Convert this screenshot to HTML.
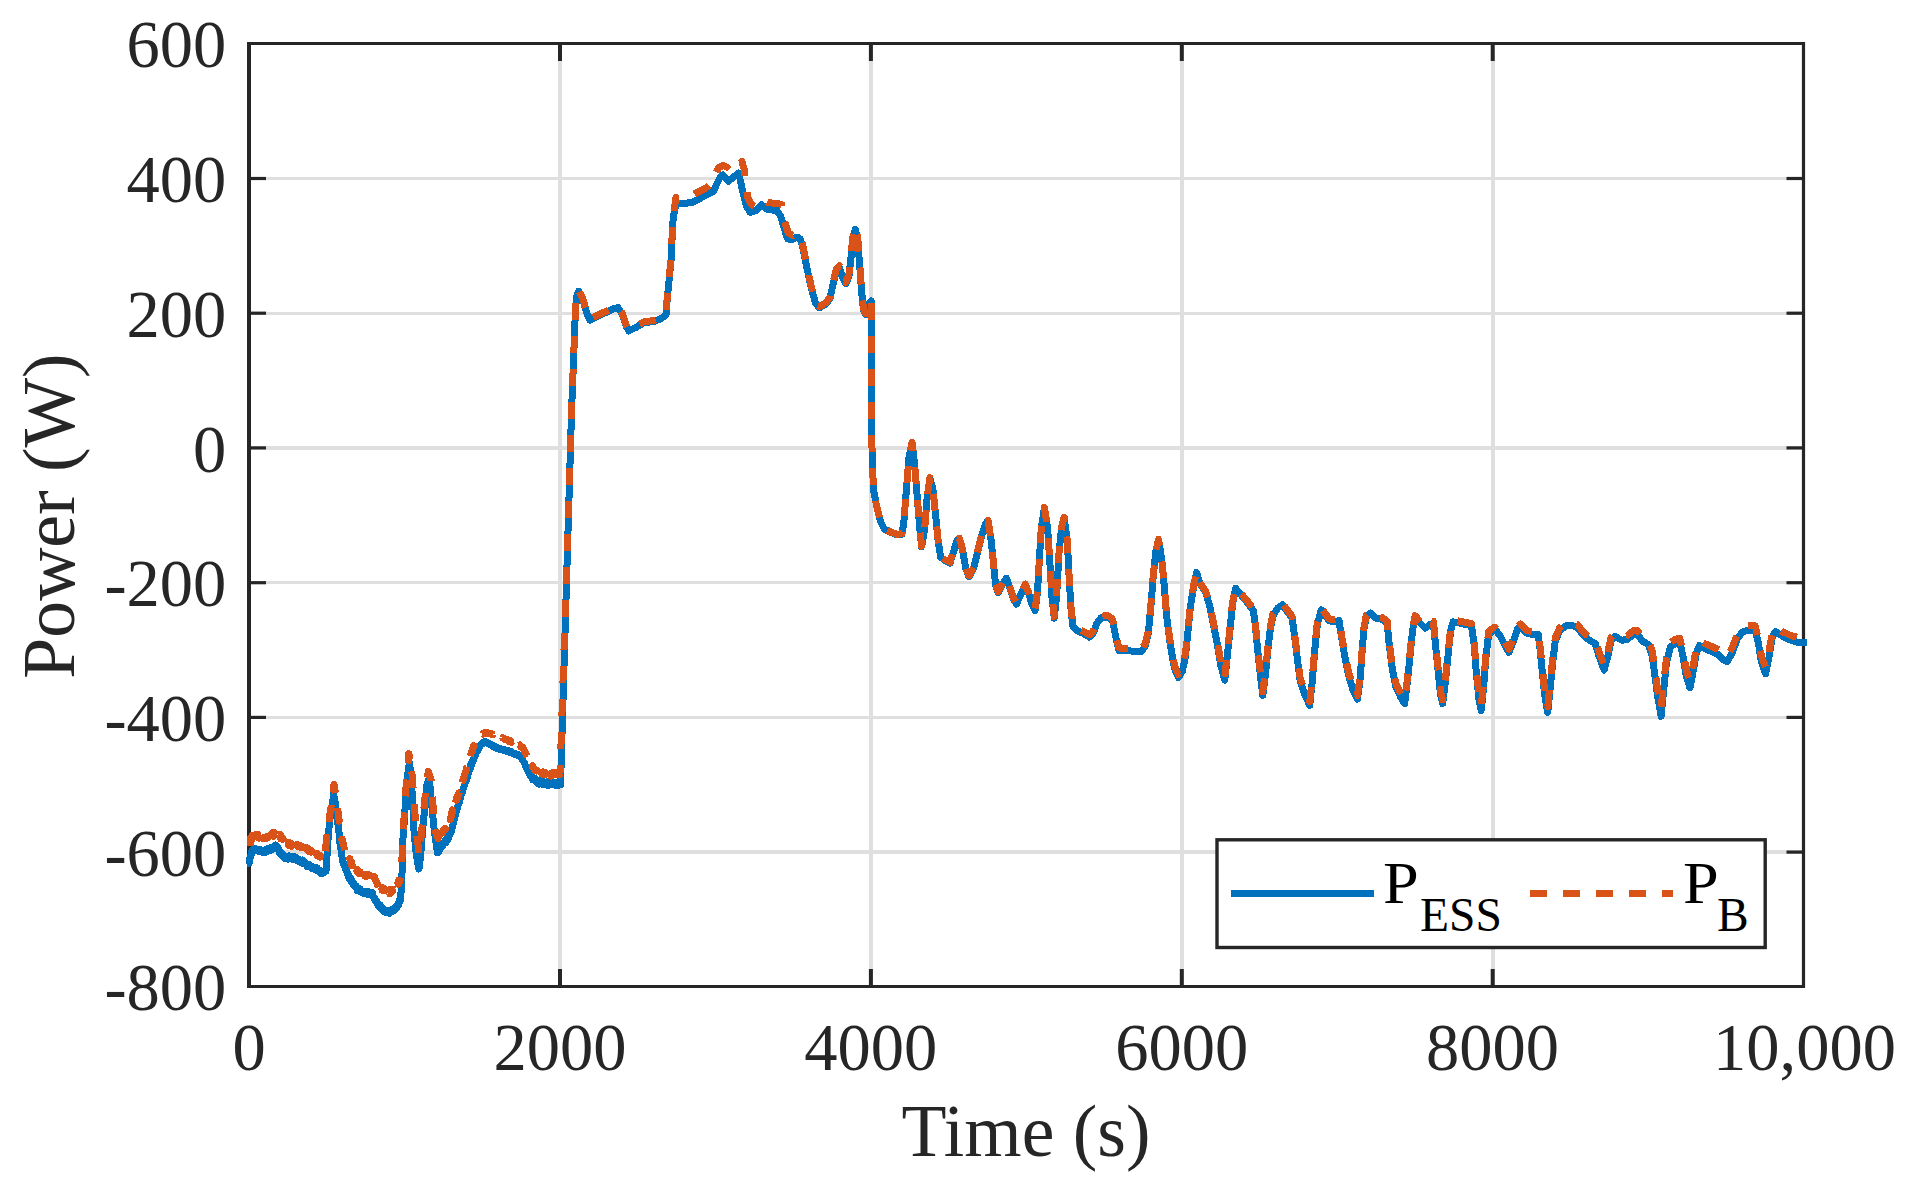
<!DOCTYPE html>
<html lang="en"><head><meta charset="utf-8"><title>Power vs Time</title>
<style>
html,body{margin:0;padding:0;background:#fff;}
body{width:1911px;height:1183px;overflow:hidden;}
svg{display:block;}
text{font-family:"Liberation Serif","Times New Roman",serif;fill:#262626;}
.tick{font-size:66.5px;}
.lab{font-size:73.7px;}
.leg{font-size:59.4px;fill:#000;}
.sub{font-size:47.5px;fill:#000;}
</style></head><body>
<svg width="1911" height="1183" viewBox="0 0 1911 1183">
<rect x="0" y="0" width="1911" height="1183" fill="#ffffff"/>
<g stroke="#dfdfdf" fill="none" shape-rendering="crispEdges">
<line x1="560.0" y1="45" x2="560.0" y2="985" stroke-width="4"/>
<line x1="870.9" y1="45" x2="870.9" y2="985" stroke-width="4"/>
<line x1="1181.8" y1="45" x2="1181.8" y2="985" stroke-width="4"/>
<line x1="1492.7" y1="45" x2="1492.7" y2="985" stroke-width="4"/>
<line x1="251" y1="178.5" x2="1802" y2="178.5" stroke-width="3.4"/>
<line x1="251" y1="313.2" x2="1802" y2="313.2" stroke-width="3.4"/>
<line x1="251" y1="447.9" x2="1802" y2="447.9" stroke-width="3.4"/>
<line x1="251" y1="582.7" x2="1802" y2="582.7" stroke-width="3.4"/>
<line x1="251" y1="717.4" x2="1802" y2="717.4" stroke-width="3.4"/>
<line x1="251" y1="852.1" x2="1802" y2="852.1" stroke-width="3.4"/>
</g>
<g stroke="#262626" fill="none" stroke-linecap="butt">
<line x1="249" y1="42" x2="249" y2="988" stroke-width="4"/>
<line x1="1803.5" y1="42" x2="1803.5" y2="988" stroke-width="3.2"/>
<line x1="247" y1="43.5" x2="1805" y2="43.5" stroke-width="3.1"/>
<line x1="247" y1="986.5" x2="1805" y2="986.5" stroke-width="3.1"/>
<line x1="560.0" y1="986" x2="560.0" y2="969" stroke-width="4"/>
<line x1="560.0" y1="44" x2="560.0" y2="61" stroke-width="4"/>
<line x1="870.9" y1="986" x2="870.9" y2="969" stroke-width="4"/>
<line x1="870.9" y1="44" x2="870.9" y2="61" stroke-width="4"/>
<line x1="1181.8" y1="986" x2="1181.8" y2="969" stroke-width="4"/>
<line x1="1181.8" y1="44" x2="1181.8" y2="61" stroke-width="4"/>
<line x1="1492.7" y1="986" x2="1492.7" y2="969" stroke-width="4"/>
<line x1="1492.7" y1="44" x2="1492.7" y2="61" stroke-width="4"/>
<line x1="250" y1="178.5" x2="266" y2="178.5" stroke-width="3.2"/>
<line x1="1803" y1="178.5" x2="1786.5" y2="178.5" stroke-width="3.2"/>
<line x1="250" y1="313.2" x2="266" y2="313.2" stroke-width="3.2"/>
<line x1="1803" y1="313.2" x2="1786.5" y2="313.2" stroke-width="3.2"/>
<line x1="250" y1="447.9" x2="266" y2="447.9" stroke-width="3.2"/>
<line x1="1803" y1="447.9" x2="1786.5" y2="447.9" stroke-width="3.2"/>
<line x1="250" y1="582.7" x2="266" y2="582.7" stroke-width="3.2"/>
<line x1="1803" y1="582.7" x2="1786.5" y2="582.7" stroke-width="3.2"/>
<line x1="250" y1="717.4" x2="266" y2="717.4" stroke-width="3.2"/>
<line x1="1803" y1="717.4" x2="1786.5" y2="717.4" stroke-width="3.2"/>
<line x1="250" y1="852.1" x2="266" y2="852.1" stroke-width="3.2"/>
<line x1="1803" y1="852.1" x2="1786.5" y2="852.1" stroke-width="3.2"/>
</g>
<g fill="none" stroke-linejoin="round" stroke-linecap="butt" shape-rendering="crispEdges">
<polyline stroke="#0072BD" stroke-width="7" points="246.6,864.1 249.1,863.2 249.3,861.2 249.6,859.6 249.8,858.4 250.1,858.4 250.3,856.6 250.6,855.3 250.8,855.7 251.1,854.7 251.3,854.1 251.6,852.3 251.8,852.4 252.1,851.8 252.3,850.1 252.6,851.1 252.8,850.4 253.1,851.4 253.3,849.3 253.6,849.0 253.8,850.2 254.1,849.4 254.3,850.0 254.6,849.0 254.8,849.5 255.1,850.2 255.3,849.9 255.6,849.5 255.8,848.6 256.1,849.8 256.3,849.6 256.6,850.1 256.8,849.8 257.1,850.5 257.3,849.6 257.6,849.9 257.8,850.3 258.1,849.0 258.3,849.6 258.6,849.6 258.8,851.6 259.1,850.1 259.3,850.7 259.6,850.8 259.8,850.1 260.1,849.2 260.3,851.3 260.6,850.3 260.8,851.2 261.1,849.7 261.3,850.5 261.6,851.9 261.8,852.1 262.1,850.0 262.3,850.0 262.6,851.1 262.8,851.8 263.1,851.5 263.3,851.6 263.6,850.7 263.8,852.0 264.1,852.5 264.3,851.2 264.6,850.3 264.8,850.8 265.1,851.9 265.3,849.8 265.6,851.1 265.8,850.3 266.1,850.9 266.3,850.7 266.6,850.9 266.8,852.0 267.1,851.0 267.3,851.7 267.6,850.4 267.8,850.1 268.1,850.7 268.3,848.1 268.6,850.2 268.8,850.3 269.1,849.1 269.3,850.4 269.6,849.5 269.8,847.9 270.1,849.6 270.3,848.9 270.6,849.2 270.8,849.3 271.1,850.3 271.3,849.2 271.6,848.9 271.8,849.1 272.1,847.1 272.3,849.4 272.6,847.4 272.8,848.4 273.1,847.0 273.3,847.0 273.6,847.3 273.8,848.9 274.1,847.8 274.3,846.6 274.6,846.7 274.8,845.8 275.1,846.6 275.3,846.0 275.6,846.8 275.8,845.0 276.1,845.6 276.3,845.6 276.6,846.1 276.8,847.7 277.1,847.6 277.3,848.3 277.6,849.2 277.8,849.6 278.1,848.0 278.3,849.9 278.6,848.4 278.8,850.2 279.1,852.2 279.3,850.9 279.6,851.1 279.8,851.9 280.1,852.2 280.3,852.6 280.6,852.3 280.8,854.1 281.1,854.2 281.3,853.5 281.6,854.2 281.8,854.7 282.1,855.3 282.3,855.0 282.6,855.5 282.8,855.0 283.1,854.6 283.3,855.3 283.6,856.8 283.8,857.0 284.1,856.6 284.3,856.2 284.6,857.2 284.8,858.5 285.1,858.5 285.3,857.1 285.6,857.9 285.8,856.7 286.1,856.9 286.3,857.9 286.6,857.6 286.8,858.3 287.1,858.5 287.3,858.0 287.6,858.3 287.8,856.8 288.1,856.2 288.3,857.4 288.6,859.1 288.8,857.2 289.1,855.9 289.3,856.9 289.6,857.9 289.8,856.0 290.1,857.5 290.3,856.5 290.6,858.1 290.8,857.7 291.1,857.4 291.3,858.9 291.6,857.0 291.8,856.9 292.1,859.0 292.3,856.9 292.6,859.4 292.8,857.7 293.1,857.0 293.3,857.9 293.6,858.0 293.8,858.2 294.1,857.9 294.3,859.0 294.6,856.4 294.8,857.9 295.1,858.2 295.3,859.9 295.6,857.0 295.8,858.4 296.1,857.9 296.3,858.4 296.6,859.5 296.8,859.5 297.1,860.4 297.3,858.9 297.6,859.7 297.8,860.6 298.1,860.5 298.3,859.6 298.6,860.9 298.8,859.4 299.1,861.7 299.3,860.5 299.6,860.4 299.8,860.9 300.1,861.4 300.3,862.3 300.6,860.9 300.8,860.8 301.1,861.7 301.3,860.7 301.6,860.2 301.8,862.3 302.1,861.5 302.3,862.8 302.6,861.2 302.8,859.9 303.1,862.6 303.3,862.6 303.6,863.9 303.8,863.2 304.1,863.2 304.3,863.6 304.6,863.0 304.8,863.5 305.1,862.5 305.3,864.1 305.6,863.2 305.8,863.7 306.1,864.7 306.3,865.0 306.6,863.7 306.8,866.2 307.1,864.3 307.3,865.6 307.6,865.8 307.8,865.4 308.1,865.5 308.3,867.0 308.6,866.3 308.8,866.1 309.1,864.4 309.3,865.3 309.6,867.0 309.8,866.3 310.1,865.5 310.3,865.8 310.6,866.2 310.8,867.1 311.1,867.0 311.3,867.6 311.6,866.2 311.8,867.8 312.1,866.7 312.3,867.0 312.6,868.7 312.8,867.5 313.1,867.4 313.3,867.4 313.6,867.4 313.8,869.1 314.1,869.0 314.3,868.6 314.6,868.3 314.8,869.1 315.1,868.3 315.3,868.8 315.6,868.9 315.8,868.7 316.1,870.1 316.3,870.3 316.6,870.1 316.8,867.7 317.1,870.8 317.3,870.1 317.6,869.3 317.8,869.8 318.1,870.9 318.3,871.1 318.6,871.0 318.8,870.5 319.1,870.6 319.3,871.4 319.6,870.8 319.8,870.3 320.1,870.7 320.3,871.2 320.6,871.7 320.8,873.4 321.1,870.7 321.3,872.3 321.6,872.0 321.8,872.5 322.1,873.5 322.3,873.5 322.6,872.3 322.8,871.8 323.1,871.1 323.3,872.0 323.6,872.9 323.8,871.6 324.1,872.2 324.3,872.1 324.6,871.7 324.8,872.2 325.1,871.1 325.3,870.4 325.6,870.0 325.8,871.5 326.1,870.4 326.3,867.2 326.6,863.6 326.8,857.9 327.1,855.4 327.3,850.1 327.6,844.6 327.8,841.1 328.1,839.6 328.3,834.9 328.6,832.4 328.8,830.0 329.1,827.3 329.3,824.3 329.6,822.6 329.8,820.0 330.1,818.2 330.3,817.3 330.6,814.8 330.8,811.9 331.1,811.7 331.3,807.0 331.6,807.3 331.8,806.4 332.1,805.2 332.3,803.2 332.6,801.4 332.8,800.8 333.1,798.8 333.3,797.9 333.6,793.9 333.8,795.9 334.1,796.3 334.3,799.0 334.6,800.2 334.8,801.5 335.1,801.9 335.3,803.9 335.6,804.7 335.8,806.9 336.1,808.6 336.3,810.0 336.6,814.3 336.8,815.3 337.1,815.1 337.3,819.4 337.6,819.6 337.8,822.8 338.1,824.8 338.3,827.1 338.6,829.9 338.8,831.7 339.1,833.1 339.3,836.5 339.6,839.0 339.8,842.4 340.1,842.9 340.3,844.1 340.6,846.5 340.8,849.0 341.1,849.6 341.3,851.4 341.6,854.2 341.8,855.5 342.1,857.4 342.3,858.5 342.6,860.1 342.8,861.4 343.1,862.2 343.3,862.7 343.6,864.0 343.8,864.8 344.1,865.4 344.3,866.0 344.6,865.6 344.8,866.1 345.1,868.3 345.3,868.3 345.6,869.1 345.8,868.7 346.1,870.2 346.3,870.5 346.6,870.9 346.8,871.6 347.1,871.4 347.3,873.1 347.6,874.5 347.8,873.5 348.1,874.6 348.3,874.2 348.6,876.1 348.8,877.5 349.1,875.6 349.3,876.9 349.6,878.7 349.8,878.4 350.1,878.6 350.3,877.4 350.6,879.4 350.8,880.8 351.1,881.7 351.3,881.6 351.6,881.0 351.8,881.3 352.1,880.7 352.3,881.6 352.6,883.6 352.8,883.0 353.1,882.3 353.3,884.7 353.6,882.7 353.8,885.3 354.1,884.4 354.3,885.2 354.6,885.8 354.8,885.8 355.1,886.9 355.3,886.2 355.6,886.2 355.8,886.3 356.1,886.0 356.3,886.9 356.6,888.5 356.8,888.6 357.1,889.2 357.3,890.5 357.6,889.1 357.8,889.1 358.1,887.8 358.3,888.9 358.6,891.0 358.8,889.9 359.1,889.5 359.3,890.1 359.6,888.5 359.8,889.5 360.1,889.3 360.3,888.9 360.6,891.4 360.8,891.7 361.1,891.0 361.3,891.6 361.6,890.7 361.8,892.0 362.1,892.3 362.3,892.9 362.6,893.0 362.8,892.2 363.1,891.8 363.3,891.3 363.6,891.5 363.8,892.6 364.1,892.6 364.3,892.2 364.6,893.6 364.8,892.9 365.1,892.4 365.3,892.3 365.6,892.6 365.8,891.8 366.1,891.9 366.3,893.0 366.6,892.3 366.8,892.6 367.1,893.9 367.3,892.8 367.6,894.1 367.8,893.1 368.1,894.4 368.3,893.6 368.6,891.9 368.8,894.3 369.1,893.2 369.3,891.9 369.6,893.6 369.8,893.7 370.1,892.6 370.3,893.2 370.6,894.2 370.8,895.0 371.1,894.8 371.3,894.9 371.6,894.9 371.8,892.2 372.1,894.0 372.3,895.2 372.6,893.3 372.8,896.5 373.1,897.1 373.3,896.2 373.6,896.9 373.8,896.9 374.1,898.1 374.3,898.5 374.6,899.0 374.8,898.6 375.1,900.2 375.3,900.0 375.6,901.5 375.8,901.4 376.1,900.4 376.3,900.9 376.6,902.5 376.8,902.5 377.1,903.6 377.3,904.2 377.6,903.9 377.8,902.8 378.1,903.5 378.3,905.3 378.6,904.3 378.8,906.3 379.1,905.7 379.3,906.5 379.6,905.7 379.8,906.6 380.1,904.6 380.3,907.1 380.6,908.1 380.8,907.2 381.1,907.6 381.3,908.5 381.6,908.9 381.8,908.5 382.1,909.9 382.3,908.2 382.6,910.5 382.8,908.6 383.1,909.2 383.3,911.1 383.6,909.3 383.8,908.9 384.1,910.4 384.3,909.8 384.6,909.7 384.8,910.2 385.1,910.3 385.3,910.2 385.6,910.3 385.8,912.5 386.1,910.8 386.3,912.3 386.6,910.5 386.8,912.2 387.1,910.9 387.3,911.6 387.6,912.6 387.8,911.8 388.1,910.8 388.3,912.1 388.6,912.5 388.8,913.2 389.1,912.1 389.3,912.8 389.6,913.1 389.8,911.5 390.1,912.6 390.3,911.8 390.6,912.6 390.8,912.0 391.1,911.7 391.3,909.7 391.6,911.4 391.8,911.0 392.1,910.3 392.3,910.5 392.6,909.6 392.8,910.6 393.1,910.8 393.3,910.5 393.6,909.4 393.8,911.0 394.1,910.1 394.3,908.5 394.6,908.9 394.8,907.6 395.1,908.6 395.3,909.0 395.6,909.3 395.8,907.7 396.1,906.2 396.3,907.0 396.6,907.8 396.8,906.4 397.1,906.8 397.3,906.0 397.6,906.1 397.8,904.9 398.1,903.4 398.3,903.9 398.6,905.1 398.8,902.2 399.1,900.6 399.3,903.3 399.6,901.5 399.8,900.2 400.1,899.8 400.3,898.6 400.6,899.9 400.8,896.4 401.1,890.8 401.3,886.0 401.6,881.0 401.8,877.1 402.1,871.1 402.3,862.8 402.6,846.5 402.8,840.6 403.1,837.0 403.3,833.2 403.6,829.8 403.8,826.9 404.1,823.3 404.3,817.8 404.6,815.9 404.8,811.2 405.1,808.6 405.3,803.9 405.6,800.2 405.8,798.4 406.1,795.2 406.3,791.2 406.6,788.4 406.8,785.4 407.1,782.4 407.3,777.7 407.6,774.9 407.8,773.5 408.1,771.9 408.3,769.6 408.6,766.8 408.8,767.6 409.1,764.5 409.3,762.1 409.6,762.5 409.8,764.8 410.1,767.9 410.3,771.0 410.6,773.9 410.8,775.9 411.1,779.9 411.3,783.3 411.6,786.8 411.8,789.8 412.1,791.8 412.3,796.7 412.6,801.9 412.8,807.0 413.1,811.5 413.3,815.7 413.6,821.2 413.8,827.4 414.1,831.8 414.3,834.8 414.6,835.3 414.8,839.0 415.1,842.5 415.3,842.7 415.6,845.9 415.8,848.0 416.1,852.8 416.3,854.3 416.6,856.3 416.8,858.1 417.1,859.2 417.3,861.3 417.6,862.7 417.8,863.8 418.1,864.6 418.3,866.1 418.6,867.4 418.8,869.0 419.1,867.8 419.3,867.5 419.6,864.8 419.8,862.4 420.1,859.5 420.3,857.2 420.6,855.1 420.8,852.4 421.1,849.9 421.3,846.4 421.6,843.7 421.8,841.2 422.1,837.2 422.3,835.1 422.6,831.7 422.8,827.9 423.1,824.6 423.3,822.7 423.6,819.5 423.8,818.5 424.1,814.4 424.3,810.3 424.6,808.0 424.8,805.1 425.1,802.8 425.3,800.6 425.6,798.4 425.8,795.4 426.1,794.1 426.3,791.4 426.6,790.0 426.8,785.6 427.1,786.2 427.3,784.4 427.6,782.5 427.8,782.6 428.1,780.6 428.3,781.0 428.6,782.2 428.8,780.2 429.1,779.6 429.3,779.4 429.6,780.0 429.8,784.4 430.1,787.0 430.3,790.0 430.6,791.6 430.8,793.7 431.1,799.8 431.3,801.9 431.6,804.0 431.8,806.1 432.1,809.1 432.3,810.5 432.6,814.8 432.8,816.6 433.1,818.9 433.3,821.1 433.6,823.9 433.8,826.6 434.1,828.7 434.3,832.2 434.6,833.3 434.8,834.7 435.1,835.7 435.3,839.0 435.6,840.7 435.8,841.9 436.1,841.5 436.3,844.4 436.6,847.1 436.8,848.0 437.1,850.6 437.3,850.9 437.6,852.8 437.8,852.3 438.1,849.5 438.3,850.8 438.6,850.6 438.8,849.9 439.1,849.3 439.3,850.9 439.6,849.2 439.8,849.6 440.1,847.5 440.3,846.6 440.6,847.5 440.8,847.8 441.1,846.6 441.3,847.2 441.6,847.1 441.8,845.7 442.1,845.6 442.3,844.7 442.6,845.8 442.8,846.0 443.1,844.6 443.3,843.5 443.6,843.0 443.8,843.1 444.1,843.7 444.3,842.1 444.6,843.5 444.8,841.1 445.1,841.7 445.3,842.5 445.6,842.5 445.8,840.5 446.1,841.1 446.3,842.2 446.6,840.8 446.8,837.8 447.1,839.5 447.3,840.8 447.6,837.7 447.8,839.0 448.1,836.3 448.3,838.9 448.6,836.3 448.8,837.1 449.1,836.6 449.3,833.0 449.6,833.5 449.8,834.4 450.1,832.3 450.3,832.9 450.6,831.6 450.8,832.8 451.1,830.8 451.3,829.9 451.6,830.5 451.8,830.4 452.1,828.7 452.3,828.0 452.6,827.1 452.8,825.2 453.1,823.5 453.3,823.8 453.6,822.0 453.8,820.1 454.1,820.8 454.3,819.4 454.6,818.1 454.8,816.3 455.1,815.6 455.3,815.2 455.6,814.0 455.8,811.9 456.1,811.0 456.3,811.2 456.6,810.2 456.8,810.0 457.1,807.5 457.3,808.4 457.6,808.3 457.8,806.8 458.1,805.3 458.3,805.1 458.6,802.6 458.8,802.4 459.1,803.6 459.3,799.8 459.6,799.4 459.8,800.2 460.1,798.2 460.3,797.5 460.6,796.2 460.8,797.6 461.1,795.0 461.3,794.5 461.6,792.5 461.8,793.9 462.1,792.5 462.3,792.1 462.6,792.3 462.8,790.4 463.1,788.5 463.3,787.9 463.6,788.1 463.8,788.3 464.1,785.5 464.3,785.6 464.6,784.9 464.8,784.8 465.1,782.8 465.3,783.0 465.6,782.6 465.8,781.2 466.1,780.4 466.3,780.2 466.6,779.5 466.8,779.3 467.1,776.6 467.3,777.7 467.6,775.8 467.8,774.3 468.1,774.1 468.3,772.8 468.6,772.8 468.8,773.1 469.1,769.7 469.3,769.8 469.6,770.6 469.8,769.0 470.1,769.1 470.3,766.7 470.6,767.0 470.8,764.3 471.1,764.9 471.3,765.4 471.6,765.1 471.8,764.7 472.1,763.0 472.3,761.8 472.6,761.5 472.8,760.0 473.1,761.3 473.3,760.5 473.6,758.8 473.8,759.5 474.1,757.4 474.3,757.6 474.6,756.4 474.8,755.4 475.1,755.7 475.3,754.4 475.6,754.7 475.8,753.3 476.1,753.0 476.3,752.4 476.6,752.1 476.8,751.4 477.1,751.5 477.3,751.0 477.6,750.3 477.8,749.8 478.1,750.1 478.3,748.8 478.6,748.4 478.8,748.4 479.1,747.7 479.3,746.7 479.6,746.8 479.8,746.3 480.1,745.6 480.3,745.6 480.6,744.7 480.8,744.6 481.1,743.8 481.3,744.4 481.6,743.7 481.8,743.8 482.1,743.7 482.3,743.7 482.6,743.3 482.8,743.5 483.1,743.2 483.3,742.3 483.6,743.0 483.8,742.4 484.1,743.0 484.3,742.7 484.6,742.4 484.8,741.6 485.1,741.6 485.3,741.8 485.6,742.0 485.8,741.7 486.1,742.9 486.3,742.6 486.6,742.5 486.8,742.4 487.1,742.7 487.3,742.9 487.6,743.0 487.8,743.2 488.1,743.6 488.3,743.0 488.6,743.7 488.8,744.2 489.1,743.5 489.3,744.0 489.6,744.1 489.8,744.0 490.1,744.8 490.3,744.5 490.6,745.1 490.8,745.0 491.1,745.0 491.3,745.3 491.6,745.2 491.8,744.9 492.1,746.0 492.3,745.8 492.6,746.2 492.8,745.4 493.1,746.4 493.3,746.5 493.6,746.3 493.8,745.8 494.1,746.6 494.3,746.5 494.6,746.8 494.8,747.0 495.1,746.8 495.3,747.2 495.6,747.3 495.8,747.9 496.1,747.5 496.3,748.4 496.6,747.4 496.8,747.8 497.1,748.3 497.3,747.5 497.6,748.3 497.8,748.3 498.1,748.0 498.3,748.2 498.6,748.9 498.8,748.3 499.1,748.6 499.3,748.8 499.6,749.1 499.8,748.1 500.1,748.4 500.3,748.5 500.6,748.9 500.8,749.3 501.1,749.4 501.3,749.1 501.6,749.8 501.8,749.3 502.1,749.7 502.3,749.3 502.6,749.9 502.8,749.4 503.1,750.1 503.3,750.1 503.6,750.5 503.8,749.8 504.1,749.7 504.3,750.4 504.6,750.3 504.8,750.1 505.1,749.9 505.3,750.7 505.6,749.9 505.8,750.4 506.1,751.0 506.3,750.6 506.6,750.9 506.8,751.0 507.1,751.1 507.3,751.4 507.6,751.3 507.8,751.0 508.1,750.8 508.3,751.2 508.6,751.2 508.8,751.6 509.1,751.9 509.3,751.9 509.6,751.5 509.8,751.9 510.1,751.9 510.3,751.9 510.6,752.6 510.8,752.4 511.1,752.5 511.3,752.0 511.6,751.7 511.8,752.4 512.1,753.1 512.3,752.8 512.6,752.9 512.8,753.0 513.1,753.3 513.3,753.2 513.6,753.9 513.8,753.4 514.1,753.5 514.3,754.1 514.6,754.0 514.8,754.1 515.1,754.1 515.3,754.0 515.6,754.2 515.8,754.4 516.1,754.4 516.3,753.8 516.6,754.9 516.8,754.4 517.1,754.5 517.3,754.7 517.6,754.7 517.8,754.7 518.1,755.0 518.3,755.4 518.6,755.2 518.8,755.5 519.1,755.0 519.3,755.8 519.6,755.3 519.8,756.0 520.1,755.6 520.3,755.7 520.6,755.7 520.8,756.2 521.1,756.9 521.3,757.2 521.6,757.9 521.8,758.8 522.1,758.6 522.3,759.2 522.6,759.7 522.8,760.0 523.1,760.7 523.3,761.2 523.6,761.9 523.8,761.8 524.1,762.4 524.3,762.9 524.6,764.0 524.8,763.8 525.1,764.8 525.3,765.6 525.6,766.1 525.8,766.3 526.1,766.7 526.3,767.1 526.6,768.1 526.8,768.7 527.1,768.9 527.3,770.2 527.6,770.6 527.8,771.1 528.1,771.6 528.3,772.3 528.6,772.4 528.8,773.1 529.1,773.1 529.3,774.1 529.6,773.3 529.8,773.9 530.1,775.6 530.3,775.7 530.6,776.4 530.8,775.5 531.1,776.7 531.3,777.2 531.6,777.6 531.8,777.3 532.1,778.6 532.3,778.1 532.6,777.1 532.8,779.9 533.1,778.5 533.3,779.5 533.6,778.2 533.8,778.2 534.1,779.9 534.3,780.0 534.6,778.9 534.8,779.9 535.1,778.8 535.3,778.4 535.6,781.1 535.8,779.5 536.1,781.2 536.3,781.7 536.6,781.3 536.8,782.4 537.1,781.6 537.3,781.7 537.6,781.5 537.8,781.9 538.1,781.9 538.3,780.9 538.6,781.7 538.8,781.5 539.1,784.1 539.3,782.9 539.6,781.4 539.8,782.5 540.1,780.7 540.3,782.2 540.6,783.7 540.8,782.4 541.1,783.4 541.3,782.1 541.6,782.8 541.8,782.8 542.1,780.9 542.3,782.0 542.6,784.2 542.8,782.1 543.1,783.8 543.3,784.3 543.6,782.9 543.8,783.8 544.1,783.4 544.3,782.7 544.6,783.7 544.8,783.6 545.1,782.6 545.3,783.1 545.6,782.4 545.8,783.3 546.1,783.6 546.3,782.9 546.6,782.2 546.8,784.3 547.1,784.9 547.3,783.1 547.6,783.9 547.8,783.3 548.1,781.7 548.3,785.4 548.6,784.0 548.8,782.6 549.1,784.7 549.3,784.2 549.6,784.8 549.8,784.2 550.1,784.0 550.3,784.7 550.6,783.3 550.8,783.7 551.1,782.6 551.3,782.5 551.6,783.6 551.8,783.6 552.1,782.1 552.3,783.7 552.6,784.1 552.8,782.3 553.1,783.0 553.3,784.6 553.6,782.6 553.8,783.8 554.1,784.0 554.3,783.6 554.6,783.6 554.8,784.0 555.1,783.9 555.3,783.8 555.6,782.6 555.8,784.0 556.1,783.3 556.3,785.1 556.6,785.8 556.8,785.0 557.1,782.4 557.3,785.0 557.6,784.4 557.8,783.5 558.1,783.4 558.3,785.3 560.4,783.9 560.5,785.0 571.6,410.0 573.5,361.4 575.4,310.7 576.7,296.8 578.6,291.2 583.0,300.6 586.8,313.2 590.0,320.2 598.2,315.8 607.1,312.0 613.4,308.8 617.9,307.5 622.3,314.5 626.1,325.9 628.7,331.0 636.3,327.2 643.9,322.7 654.0,321.5 661.6,318.3 666.1,314.5 667.3,298.0 669.2,279.0 671.1,260.0 672.8,222.4 674.7,208.4 677.3,203.4 681.7,203.4 691.8,202.7 698.2,199.6 704.5,195.8 713.4,191.3 717.2,183.1 720.4,176.8 722.9,174.9 728.6,181.2 733.7,176.8 738.7,173.1 740.6,181.8 742.5,190.7 746.3,205.9 750.1,212.3 756.5,210.4 761.5,204.8 767.9,209.7 776.8,210.4 780.6,216.1 784.4,228.7 787.5,238.9 792.0,239.5 797.0,237.0 800.2,238.9 802.7,247.0 806.5,266.1 810.9,286.3 815.4,302.8 819.2,307.9 825.5,304.1 829.9,299.0 833.1,283.8 836.3,271.1 839.4,267.4 842.6,277.5 845.8,283.8 848.9,276.2 850.8,259.7 852.7,240.7 855.3,229.4 857.8,240.7 859.7,266.1 861.6,291.4 863.5,310.4 866.1,314.9 869.2,302.8 871.1,300.9 871.8,316.8 871.8,340.0 871.5,420.0 872.2,458.0 873.5,489.7 876.6,506.2 880.4,521.4 884.2,529.0 890.6,532.2 896.9,534.7 902.0,534.1 903.9,521.4 906.4,489.7 908.9,458.0 912.1,442.3 914.6,464.4 917.2,496.1 919.7,527.7 921.6,546.8 924.8,527.7 927.3,496.1 929.9,477.8 933.0,489.7 935.6,515.1 938.1,540.4 940.6,556.9 945.1,560.7 950.1,563.2 950.0,562.3 953.8,550.8 957.0,540.7 959.5,538.8 962.7,550.8 965.8,568.6 969.0,576.9 973.5,568.6 977.3,553.4 981.7,535.6 985.5,524.2 988.0,520.5 991.2,540.7 993.7,566.1 995.6,585.1 998.2,592.7 1002.6,583.8 1006.4,578.2 1010.2,588.9 1013.4,599.0 1016.5,604.1 1021.0,593.9 1025.4,585.2 1029.2,595.2 1032.4,605.4 1035.2,610.5 1037.5,591.4 1039.4,559.7 1041.3,528.0 1044.4,507.9 1047.6,528.0 1050.1,566.1 1052.0,597.7 1054.2,618.1 1056.5,597.7 1059.0,553.4 1061.5,528.0 1064.1,517.4 1067.3,540.7 1069.2,578.7 1071.1,610.4 1073.0,626.9 1076.8,630.7 1083.1,633.2 1089.4,637.1 1093.2,633.2 1097.0,623.1 1100.8,618.0 1103.8,617.6 1108.9,617.6 1112.7,621.4 1116.5,640.4 1119.0,650.6 1125.4,650.6 1134.2,651.2 1140.6,651.8 1145.0,646.8 1148.2,634.1 1150.7,608.7 1153.2,577.0 1155.8,551.7 1158.6,539.8 1161.5,558.0 1164.0,583.4 1166.5,615.1 1169.7,640.4 1173.5,663.2 1175.4,671.3 1178.5,677.6 1182.3,671.3 1185.5,656.1 1188.0,630.7 1190.6,605.4 1193.7,586.3 1196.6,572.5 1200.1,583.8 1205.8,592.7 1209.6,605.4 1213.4,624.4 1217.2,643.4 1221.0,666.2 1224.8,680.2 1227.3,656.1 1229.9,630.7 1232.4,605.4 1235.6,588.4 1241.3,595.2 1247.6,602.8 1253.3,610.4 1255.2,624.4 1257.7,649.7 1260.3,675.1 1262.8,695.4 1265.4,675.1 1267.9,649.7 1270.4,628.2 1273.0,615.5 1278.0,607.9 1282.5,604.8 1287.5,611.7 1292.0,618.0 1293.9,630.7 1297.0,656.1 1300.2,681.4 1304.6,694.1 1309.7,705.5 1312.3,681.4 1314.8,649.7 1317.3,624.4 1321.3,609.9 1323.8,613.0 1328.9,620.6 1333.9,621.8 1339.0,620.6 1341.5,637.0 1344.7,656.1 1348.5,675.1 1353.0,690.3 1357.4,699.2 1359.9,681.4 1361.8,656.1 1363.7,630.7 1366.3,616.8 1370.7,613.1 1375.8,618.0 1382.1,619.3 1387.2,623.1 1389.1,643.4 1392.3,668.7 1396.1,687.7 1401.1,697.9 1404.7,703.6 1407.5,681.4 1410.0,656.1 1412.5,630.7 1415.1,617.5 1420.1,623.1 1425.2,628.2 1430.3,624.4 1433.4,623.1 1435.4,643.4 1437.9,668.7 1440.4,694.1 1442.7,703.6 1445.5,681.4 1448.0,656.1 1450.6,630.7 1453.1,621.8 1459.4,623.1 1465.8,624.4 1471.5,625.6 1474.0,643.4 1476.5,675.1 1479.1,700.4 1481.2,710.6 1483.5,687.7 1486.1,656.1 1488.6,634.5 1492.5,630.7 1495.1,629.4 1500.1,635.8 1503.9,643.4 1509.0,652.3 1513.5,640.8 1517.3,629.4 1520.4,626.4 1526.8,633.2 1533.1,634.5 1538.2,634.5 1540.1,649.7 1542.0,668.7 1544.5,694.1 1547.7,712.5 1550.2,687.7 1552.7,662.4 1555.3,640.8 1559.7,630.7 1566.1,625.6 1571.1,625.0 1577.5,627.5 1583.8,635.8 1590.1,640.8 1595.2,643.4 1599.0,656.1 1604.1,670.0 1607.9,656.1 1611.1,640.8 1614.9,636.5 1621.8,640.2 1626.9,639.6 1633.2,634.5 1637.0,633.9 1642.1,640.8 1648.4,644.6 1652.3,656.1 1654.8,675.1 1657.3,694.1 1661.1,716.3 1663.9,687.7 1666.5,662.4 1670.3,647.2 1675.4,643.4 1679.8,642.7 1683.0,656.1 1686.1,675.1 1689.9,687.8 1693.7,668.7 1696.3,653.5 1699.4,645.4 1705.8,649.1 1713.4,652.3 1718.4,654.8 1723.5,659.9 1727.3,661.8 1732.4,652.3 1737.5,638.3 1742.5,632.0 1747.6,630.1 1755.2,630.1 1758.4,643.4 1761.5,662.4 1765.6,673.8 1769.2,656.1 1772.3,637.0 1775.5,631.5 1781.8,635.8 1789.4,639.6 1797.0,642.1 1804.0,642.7 1806.6,642.7"/>
<polyline stroke="#D95319" stroke-width="7" stroke-dasharray="17 16" stroke-dashoffset="22.00" points="246.6,855.2 249.1,853.3 249.3,850.5 249.6,847.3 249.8,846.2 250.1,846.3 250.3,842.4 250.6,841.8 250.8,837.6 251.1,837.9 251.3,840.4 251.6,837.7 251.8,836.5 252.1,835.5 252.3,835.6 252.6,836.2 252.8,834.5 253.1,836.2 253.3,835.7 253.6,835.2 253.8,833.3 254.1,834.2 254.3,834.0 254.6,833.0 254.8,835.1 255.1,834.2 255.3,834.9 255.6,834.0 255.8,834.2 256.1,835.8 256.3,835.3 256.6,834.2 256.8,836.6 257.1,834.3 257.3,836.8 257.6,834.2 257.8,835.5 258.1,837.0 258.3,836.8 258.6,836.5 258.8,838.1 259.1,837.8 259.3,838.0 259.6,836.9 259.8,837.2 260.1,837.4 260.3,839.0 260.6,836.8 260.8,838.6 261.1,837.7 261.3,838.0 261.6,839.9 261.8,839.2 262.1,836.7 262.3,836.5 262.6,838.0 262.8,837.8 263.1,837.8 263.3,839.0 263.6,837.8 263.8,837.3 264.1,837.5 264.3,838.2 264.6,838.8 264.8,837.1 265.1,837.7 265.3,838.4 265.6,838.2 265.8,837.5 266.1,838.3 266.3,837.0 266.6,836.5 266.8,836.3 267.1,836.8 267.3,836.2 267.6,836.6 267.8,838.0 268.1,836.4 268.3,836.8 268.6,838.0 268.8,835.6 269.1,835.4 269.3,836.5 269.6,834.9 269.8,835.4 270.1,836.6 270.3,833.8 270.6,835.8 270.8,836.6 271.1,834.8 271.3,835.1 271.6,833.9 271.8,834.9 272.1,834.6 272.3,835.6 272.6,835.3 272.8,836.2 273.1,835.3 273.3,834.2 273.6,832.3 273.8,836.3 274.1,834.8 274.3,834.6 274.6,835.2 274.8,834.9 275.1,835.5 275.3,834.4 275.6,834.4 275.8,834.8 276.1,833.5 276.3,832.9 276.6,833.1 276.8,833.2 277.1,832.4 277.3,833.3 277.6,834.0 277.8,832.0 278.1,833.1 278.3,834.3 278.6,834.5 278.8,835.8 279.1,834.9 279.3,834.8 279.6,835.2 279.8,834.2 280.1,834.3 280.3,835.6 280.6,835.8 280.8,838.8 281.1,835.7 281.3,837.3 281.6,837.3 281.8,838.5 282.1,838.3 282.3,837.4 282.6,837.8 282.8,839.3 283.1,838.7 283.3,840.6 283.6,840.9 283.8,840.3 284.1,840.5 284.3,839.7 284.6,839.0 284.8,840.8 285.1,841.9 285.3,841.5 285.6,841.8 285.8,841.0 286.1,842.3 286.3,843.1 286.6,843.0 286.8,841.9 287.1,842.6 287.3,844.0 287.6,843.9 287.8,843.0 288.1,843.3 288.3,845.2 288.6,844.1 288.8,842.3 289.1,843.3 289.3,844.7 289.6,844.5 289.8,844.5 290.1,843.4 290.3,844.0 290.6,843.7 290.8,843.1 291.1,844.5 291.3,844.3 291.6,845.1 291.8,846.2 292.1,845.1 292.3,845.1 292.6,845.3 292.8,844.0 293.1,843.4 293.3,844.5 293.6,845.8 293.8,845.1 294.1,846.0 294.3,845.5 294.6,845.0 294.8,844.2 295.1,845.4 295.3,847.3 295.6,845.1 295.8,844.8 296.1,844.9 296.3,844.6 296.6,845.1 296.8,845.6 297.1,846.5 297.3,844.5 297.6,845.6 297.8,845.8 298.1,846.8 298.3,846.8 298.6,845.6 298.8,846.7 299.1,845.8 299.3,846.8 299.6,846.2 299.8,847.1 300.1,846.7 300.3,847.2 300.6,847.0 300.8,845.8 301.1,846.9 301.3,845.9 301.6,847.8 301.8,847.8 302.1,847.5 302.3,846.9 302.6,847.5 302.8,847.0 303.1,847.2 303.3,846.9 303.6,847.9 303.8,849.0 304.1,847.5 304.3,846.2 304.6,848.0 304.8,848.7 305.1,848.2 305.3,848.1 305.6,848.6 305.8,847.3 306.1,849.1 306.3,847.5 306.6,849.3 306.8,849.0 307.1,848.7 307.3,849.0 307.6,849.9 307.8,849.8 308.1,850.3 308.3,850.7 308.6,849.2 308.8,848.8 309.1,849.0 309.3,850.9 309.6,850.7 309.8,851.7 310.1,850.5 310.3,851.4 310.6,851.3 310.8,852.1 311.1,851.9 311.3,850.8 311.6,851.2 311.8,850.9 312.1,851.5 312.3,853.3 312.6,853.8 312.8,853.1 313.1,852.2 313.3,853.7 313.6,853.2 313.8,853.6 314.1,852.4 314.3,853.4 314.6,854.7 314.8,853.1 315.1,853.8 315.3,853.2 315.6,854.2 315.8,854.1 316.1,853.7 316.3,853.2 316.6,854.6 316.8,853.2 317.1,854.5 317.3,855.7 317.6,856.0 317.8,855.4 318.1,854.7 318.3,856.2 318.6,855.4 318.8,856.3 319.1,856.9 319.3,855.1 319.6,855.4 319.8,856.0 320.1,856.7 320.3,857.0 320.6,856.0 320.8,858.5 321.1,856.9 321.3,857.4 321.6,857.0 321.8,857.8 322.1,857.8 322.3,857.4 322.6,855.5 322.8,856.1 323.1,856.3 323.3,856.4 323.6,856.5 323.8,856.6 324.1,855.2 324.3,855.7 324.6,853.8 324.8,853.5 325.1,851.2 325.3,848.0 325.6,847.0 325.8,845.5 326.1,844.3 326.3,841.9 326.6,839.0 326.8,836.2 327.1,834.4 327.3,831.5 327.6,830.9 327.8,829.0 328.1,825.4 328.3,824.8 328.6,824.5 328.8,820.5 329.1,822.1 329.3,818.2 329.6,816.0 329.8,814.7 330.1,812.6 330.3,812.2 330.6,810.6 330.8,807.8 331.1,806.7 331.3,803.2 331.6,802.3 331.8,802.7 332.1,799.4 332.3,795.9 332.6,793.9 332.8,795.0 333.1,791.8 333.3,791.1 333.6,787.4 333.8,785.9 334.1,784.2 334.3,786.6 334.6,787.5 334.8,788.9 335.1,790.9 335.3,791.8 335.6,793.4 335.8,796.5 336.1,796.7 336.3,797.9 336.6,799.5 336.8,804.0 337.1,803.6 337.3,805.5 337.6,807.3 337.8,809.6 338.1,811.5 338.3,813.4 338.6,816.2 338.8,816.8 339.1,821.1 339.3,819.9 339.6,823.8 339.8,823.7 340.1,827.3 340.3,828.3 340.6,830.0 340.8,832.0 341.1,835.4 341.3,837.0 341.6,837.8 341.8,839.0 342.1,841.0 342.3,839.0 342.6,840.5 342.8,842.0 343.1,842.1 343.3,844.5 343.6,845.3 343.8,845.9 344.1,847.3 344.3,848.4 344.6,848.9 344.8,850.3 345.1,850.3 345.3,851.1 345.6,852.2 345.8,852.2 346.1,852.9 346.3,852.8 346.6,853.2 346.8,855.1 347.1,853.3 347.3,852.5 347.6,854.0 347.8,855.8 348.1,856.0 348.3,856.6 348.6,856.1 348.8,857.2 349.1,856.7 349.3,857.6 349.6,859.0 349.8,858.5 350.1,860.1 350.3,860.4 350.6,860.8 350.8,862.8 351.1,863.1 351.3,862.6 351.6,861.7 351.8,866.0 352.1,864.5 352.3,866.8 352.6,867.1 352.8,866.2 353.1,866.7 353.3,866.9 353.6,867.6 353.8,865.3 354.1,868.0 354.3,867.5 354.6,868.6 354.8,867.7 355.1,868.6 355.3,868.2 355.6,868.5 355.8,869.3 356.1,869.4 356.3,871.0 356.6,869.7 356.8,870.6 357.1,871.8 357.3,870.8 357.6,869.5 357.8,870.6 358.1,871.6 358.3,871.4 358.6,873.4 358.8,872.2 359.1,872.4 359.3,872.0 359.6,873.4 359.8,872.2 360.1,871.8 360.3,873.9 360.6,872.9 360.8,873.6 361.1,874.8 361.3,872.7 361.6,872.8 361.8,873.2 362.1,872.5 362.3,874.5 362.6,873.4 362.8,873.3 363.1,873.5 363.3,875.6 363.6,873.9 363.8,873.5 364.1,873.2 364.3,873.7 364.6,875.0 364.8,876.0 365.1,874.9 365.3,874.8 365.6,875.5 365.8,874.9 366.1,875.3 366.3,874.5 366.6,876.6 366.8,874.2 367.1,874.3 367.3,875.8 367.6,875.6 367.8,875.9 368.1,875.7 368.3,874.4 368.6,875.1 368.8,875.6 369.1,875.7 369.3,874.9 369.6,875.8 369.8,875.2 370.1,875.9 370.3,875.9 370.6,876.5 370.8,877.9 371.1,876.3 371.3,877.0 371.6,877.6 371.8,875.3 372.1,876.1 372.3,878.5 372.6,877.0 372.8,877.1 373.1,877.4 373.3,877.8 373.6,876.7 373.8,877.6 374.1,876.3 374.3,876.6 374.6,877.7 374.8,877.7 375.1,878.9 375.3,879.5 375.6,879.9 375.8,881.1 376.1,881.8 376.3,882.0 376.6,882.9 376.8,881.8 377.1,884.4 377.3,882.9 377.6,883.7 377.8,885.1 378.1,885.8 378.3,885.4 378.6,886.2 378.8,885.3 379.1,886.2 379.3,886.6 379.6,885.3 379.8,885.6 380.1,886.3 380.3,886.7 380.6,888.1 380.8,888.5 381.1,886.9 381.3,888.4 381.6,889.0 381.8,887.2 382.1,890.1 382.3,887.4 382.6,889.4 382.8,889.6 383.1,888.7 383.3,889.8 383.6,889.7 383.8,890.2 384.1,889.9 384.3,890.2 384.6,888.4 384.8,889.7 385.1,889.7 385.3,890.7 385.6,890.1 385.8,890.5 386.1,892.1 386.3,891.5 386.6,892.2 386.8,891.6 387.1,891.0 387.3,893.2 387.6,891.6 387.8,893.3 388.1,891.4 388.3,891.9 388.6,892.2 388.8,893.8 389.1,892.7 389.3,893.5 389.6,893.4 389.8,893.6 390.1,893.5 390.3,889.5 390.6,891.2 390.8,891.4 391.1,891.7 391.3,890.3 391.6,890.9 391.8,890.4 392.1,891.6 392.3,889.8 392.6,891.4 392.8,889.3 393.1,889.9 393.3,889.6 393.6,889.4 393.8,889.1 394.1,889.7 394.3,888.4 394.6,888.3 394.8,887.1 395.1,886.9 395.3,888.3 395.6,886.6 395.8,884.8 396.1,885.9 396.3,885.9 396.6,886.4 396.8,884.2 397.1,884.4 397.3,885.2 397.6,883.7 397.8,883.8 398.1,882.5 398.3,884.3 398.6,881.7 398.8,880.2 399.1,882.4 399.3,883.2 399.6,880.9 399.8,880.8 400.1,880.5 400.3,879.8 400.6,875.3 400.8,873.4 401.1,871.6 401.3,868.7 401.6,865.0 401.8,864.2 402.1,855.1 402.3,850.8 402.6,844.0 402.8,840.8 403.1,834.7 403.3,829.8 403.6,825.4 403.8,820.3 404.1,816.9 404.3,812.7 404.6,808.3 404.8,805.0 405.1,801.1 405.3,795.8 405.6,792.8 405.8,789.2 406.1,787.1 406.3,782.4 406.6,779.5 406.8,776.5 407.1,774.4 407.3,771.0 407.6,767.9 407.8,764.9 408.1,761.9 408.3,760.2 408.6,759.0 408.8,753.5 409.1,754.8 409.3,755.6 409.6,757.8 409.8,755.9 410.1,758.5 410.3,763.4 410.6,762.9 410.8,764.1 411.1,765.7 411.3,766.1 411.6,769.8 411.8,771.6 412.1,774.9 412.3,776.8 412.6,780.9 412.8,783.8 413.1,788.5 413.3,791.5 413.6,795.4 413.8,796.7 414.1,799.5 414.3,802.8 414.6,807.1 414.8,811.1 415.1,814.8 415.3,818.4 415.6,822.8 415.8,827.8 416.1,829.7 416.3,832.5 416.6,832.1 416.8,837.0 417.1,838.1 417.3,840.7 417.6,841.4 417.8,843.8 418.1,845.2 418.3,847.5 418.6,849.4 418.8,851.8 419.1,855.1 419.3,851.0 419.6,849.3 419.8,846.4 420.1,846.0 420.3,843.0 420.6,840.3 420.8,839.8 421.1,836.7 421.3,834.3 421.6,831.5 421.8,830.3 422.1,826.0 422.3,825.5 422.6,821.2 422.8,819.3 423.1,817.1 423.3,815.3 423.6,812.9 423.8,810.6 424.1,806.3 424.3,804.8 424.6,799.8 424.8,800.3 425.1,795.5 425.3,795.3 425.6,791.5 425.8,789.5 426.1,788.4 426.3,786.6 426.6,782.6 426.8,780.1 427.1,779.8 427.3,777.4 427.6,774.2 427.8,774.0 428.1,772.4 428.3,771.2 428.6,773.7 428.8,773.4 429.1,773.4 429.3,775.1 429.6,775.9 429.8,776.6 430.1,777.4 430.3,777.7 430.6,778.8 430.8,779.4 431.1,779.9 431.3,783.3 431.6,785.6 431.8,789.8 432.1,794.0 432.3,796.7 432.6,798.9 432.8,803.6 433.1,806.0 433.3,809.3 433.6,811.5 433.8,814.0 434.1,816.6 434.3,818.8 434.6,820.7 434.8,824.1 435.1,825.5 435.3,828.0 435.6,832.0 435.8,832.4 436.1,832.3 436.3,834.4 436.6,832.4 436.8,835.0 437.1,834.8 437.3,836.4 437.6,835.8 437.8,837.9 438.1,838.4 438.3,837.6 438.6,836.5 438.8,835.4 439.1,836.3 439.3,836.3 439.6,836.9 439.8,835.9 440.1,834.9 440.3,835.2 440.6,833.7 440.8,834.4 441.1,833.5 441.3,835.4 441.6,830.9 441.8,832.5 442.1,833.2 442.3,832.0 442.6,831.5 442.8,832.7 443.1,831.7 443.3,830.0 443.6,830.4 443.8,830.2 444.1,829.4 444.3,829.4 444.6,830.3 444.8,828.4 445.1,829.1 445.3,828.3 445.6,828.8 445.8,828.3 446.1,826.5 446.3,826.0 446.6,827.6 446.8,823.8 447.1,825.1 447.3,824.7 447.6,824.3 447.8,824.5 448.1,822.9 448.3,823.7 448.6,823.2 448.8,822.6 449.1,821.9 449.3,821.7 449.6,820.9 449.8,819.8 450.1,818.4 450.3,819.5 450.6,818.6 450.8,818.0 451.1,816.4 451.3,816.2 451.6,815.7 451.8,811.9 452.1,813.8 452.3,810.0 452.6,810.9 452.8,809.8 453.1,809.8 453.3,809.7 453.6,807.6 453.8,806.0 454.1,805.5 454.3,804.7 454.6,806.3 454.8,803.6 455.1,803.5 455.3,802.7 455.6,800.6 455.8,802.7 456.1,799.5 456.3,800.2 456.6,797.8 456.8,797.2 457.1,799.4 457.3,796.7 457.6,796.1 457.8,795.6 458.1,795.9 458.3,794.3 458.6,794.1 458.8,793.0 459.1,793.2 459.3,791.2 459.6,791.2 459.8,789.0 460.1,789.9 460.3,787.9 460.6,788.4 460.8,789.6 461.1,786.8 461.3,786.6 461.6,785.9 461.8,784.3 462.1,783.1 462.3,782.7 462.6,780.8 462.8,780.6 463.1,780.8 463.3,779.2 463.6,779.1 463.8,777.4 464.1,776.2 464.3,775.8 464.6,774.8 464.8,773.9 465.1,773.3 465.3,772.8 465.6,771.8 465.8,771.1 466.1,769.8 466.3,769.0 466.6,767.8 466.8,767.7 467.1,765.9 467.3,764.6 467.6,765.2 467.8,764.0 468.1,762.4 468.3,762.4 468.6,760.4 468.8,761.5 469.1,760.0 469.3,757.9 469.6,758.4 469.8,756.8 470.1,756.9 470.3,756.2 470.6,755.6 470.8,754.1 471.1,753.4 471.3,752.3 471.6,752.6 471.8,751.3 472.1,751.7 472.3,751.6 472.6,749.5 472.8,748.1 473.1,747.8 473.3,748.1 473.6,746.9 473.8,745.5 474.1,746.2 474.3,745.9 474.6,745.6 474.8,744.7 475.1,744.4 475.3,743.8 475.6,743.3 475.8,743.1 476.1,742.9 476.3,742.3 476.6,742.2 476.8,742.0 477.1,741.1 477.3,740.3 477.6,740.8 477.8,740.5 478.1,739.2 478.3,739.3 478.6,738.8 478.8,738.8 479.1,738.3 479.3,738.4 479.6,737.4 479.8,737.5 480.1,737.7 480.3,737.3 480.6,736.9 480.8,736.4 481.1,736.2 481.3,736.1 481.6,735.4 481.8,734.7 482.1,735.2 482.3,735.0 482.6,734.4 482.8,733.8 483.1,734.0 483.3,733.5 483.6,733.4 483.8,733.0 484.1,733.0 484.3,733.1 484.6,732.8 484.8,733.2 485.1,733.1 485.3,732.9 485.6,733.1 485.8,733.6 486.1,732.7 486.3,732.7 486.6,732.7 486.8,732.8 487.1,733.6 487.3,733.1 487.6,733.5 487.8,733.4 488.1,732.9 488.3,733.4 488.6,733.1 488.8,733.7 489.1,733.6 489.3,733.4 489.6,733.2 489.8,733.5 490.1,733.8 490.3,733.8 490.6,733.9 490.8,733.7 491.1,733.5 491.3,734.3 491.6,734.3 491.8,734.0 492.1,734.7 492.3,734.8 492.6,734.9 492.8,734.4 493.1,734.7 493.3,734.1 493.6,734.3 493.8,735.4 494.1,735.3 494.3,735.0 494.6,735.1 494.8,735.7 495.1,735.6 495.3,736.0 495.6,735.3 495.8,735.3 496.1,735.7 496.3,735.8 496.6,735.9 496.8,736.1 497.1,736.1 497.3,736.0 497.6,736.0 497.8,736.2 498.1,736.3 498.3,736.4 498.6,736.5 498.8,736.8 499.1,737.1 499.3,736.6 499.6,737.6 499.8,737.4 500.1,736.9 500.3,736.7 500.6,737.2 500.8,737.9 501.1,737.3 501.3,737.9 501.6,738.0 501.8,738.2 502.1,738.1 502.3,738.0 502.6,737.6 502.8,738.3 503.1,738.4 503.3,738.5 503.6,738.3 503.8,738.7 504.1,738.8 504.3,738.8 504.6,738.9 504.8,739.1 505.1,739.4 505.3,739.0 505.6,739.9 505.8,739.4 506.1,739.5 506.3,740.0 506.6,740.0 506.8,739.9 507.1,740.0 507.3,740.2 507.6,739.9 507.8,740.3 508.1,740.6 508.3,740.5 508.6,740.8 508.8,741.0 509.1,741.1 509.3,740.8 509.6,740.6 509.8,741.7 510.1,741.2 510.3,740.3 510.6,741.4 510.8,741.9 511.1,741.8 511.3,741.8 511.6,742.2 511.8,742.1 512.1,741.2 512.3,742.0 512.6,742.3 512.8,742.8 513.1,742.3 513.3,742.5 513.6,742.7 513.8,742.8 514.1,743.5 514.3,743.3 514.6,742.7 514.8,742.9 515.1,743.6 515.3,742.7 515.6,743.4 515.8,743.8 516.1,743.6 516.3,743.9 516.6,743.6 516.8,744.4 517.1,744.4 517.3,744.0 517.6,744.6 517.8,744.4 518.1,744.1 518.3,745.0 518.6,744.6 518.8,744.9 519.1,745.4 519.3,745.2 519.6,745.2 519.8,745.0 520.1,746.0 520.3,746.0 520.6,746.3 520.8,746.8 521.1,746.2 521.3,746.5 521.6,746.4 521.8,746.6 522.1,746.9 522.3,747.6 522.6,747.4 522.8,748.6 523.1,748.3 523.3,748.8 523.6,749.9 523.8,749.6 524.1,750.4 524.3,750.8 524.6,750.9 524.8,751.5 525.1,751.9 525.3,753.1 525.6,753.6 525.8,753.2 526.1,754.2 526.3,755.0 526.6,755.1 526.8,755.2 527.1,756.2 527.3,756.0 527.6,756.9 527.8,757.4 528.1,758.0 528.3,759.0 528.6,759.8 528.8,759.9 529.1,759.7 529.3,761.1 529.6,761.2 529.8,762.9 530.1,763.7 530.3,763.5 530.6,763.5 530.8,763.9 531.1,764.1 531.3,765.7 531.6,765.4 531.8,764.9 532.1,766.4 532.3,765.7 532.6,767.4 532.8,766.0 533.1,766.5 533.3,767.3 533.6,767.9 533.8,768.6 534.1,770.0 534.3,768.9 534.6,769.7 534.8,768.8 535.1,770.4 535.3,770.8 535.6,769.7 535.8,769.9 536.1,770.3 536.3,770.3 536.6,771.0 536.8,770.2 537.1,771.1 537.3,769.9 537.6,771.5 537.8,771.6 538.1,771.3 538.3,772.7 538.6,772.2 538.8,771.5 539.1,770.6 539.3,772.2 539.6,772.0 539.8,771.6 540.1,772.0 540.3,772.4 540.6,772.7 540.8,771.8 541.1,771.8 541.3,772.1 541.6,771.3 541.8,773.8 542.1,772.5 542.3,774.1 542.6,772.8 542.8,771.9 543.1,773.3 543.3,773.6 543.6,774.5 543.8,774.1 544.1,772.6 544.3,773.2 544.6,774.1 544.8,774.1 545.1,774.3 545.3,772.6 545.6,773.7 545.8,774.4 546.1,773.3 546.3,773.5 546.6,774.6 546.8,774.8 547.1,774.7 547.3,773.3 547.6,774.7 547.8,774.4 548.1,775.4 548.3,772.9 548.6,773.9 548.8,774.5 549.1,775.2 549.3,773.9 549.6,774.2 549.8,773.7 550.1,773.8 550.3,774.2 550.6,774.3 550.8,774.3 551.1,776.1 551.3,775.0 551.6,773.6 551.8,772.8 552.1,773.5 552.3,772.7 552.6,773.9 552.8,774.0 553.1,773.8 553.3,775.0 553.6,774.6 553.8,774.3 554.1,773.9 554.3,773.0 554.6,773.7 554.8,773.6 555.1,772.2 555.3,774.7 555.6,774.1 555.8,774.6 556.1,773.7 556.3,773.2 556.6,774.7 556.8,773.6 557.1,774.4 557.3,774.2 557.6,774.1 557.8,774.5 558.1,773.4 558.3,773.5 558.6,775.7 558.8,774.1 559.1,772.6 559.3,774.4 559.6,773.7 559.8,775.0 560.1,773.2"/>
<polyline stroke="#D95319" stroke-width="7" stroke-dasharray="17 16" stroke-dashoffset="8.50" points="560.1,773.2 571.6,408.0 573.5,361.0 575.4,309.6 576.7,295.4 578.6,289.7 583.0,299.3 586.8,312.2 590.0,319.3 598.2,314.7 607.1,310.9 613.4,307.7 617.9,306.4 622.3,313.5 626.1,325.0 628.7,330.2 636.3,326.3 643.9,321.8 654.0,320.5 661.6,317.3 666.1,313.5 667.3,296.7 669.2,277.3 671.1,257.9 672.8,221.1 674.7,205.9 676.0,197.7 678.5,198.3 681.7,198.1 691.8,196.4 693.7,194.3 700.7,190.7 707.7,186.9 712.7,182.5 715.3,174.2 718.4,167.9 722.9,165.4 727.3,167.3 731.1,171.1 734.9,169.8 738.7,166.0 741.9,161.3 744.1,169.2 745.7,181.8 747.6,197.0 751.4,204.6 755.2,206.5 759.0,203.4 762.2,199.6 767.9,202.7 776.8,203.4 781.8,204.6 784.4,221.1 788.2,232.5 792.6,235.7 797.0,233.2 800.8,236.3 802.7,244.7 806.5,264.1 810.9,284.8 815.4,301.6 819.2,306.8 825.5,302.9 829.9,297.7 833.1,282.2 836.3,269.3 839.4,265.5 842.6,275.7 845.8,282.2 848.9,274.5 850.8,257.6 852.7,238.2 855.3,226.6 857.8,238.2 859.7,264.1 861.6,290.0 863.5,309.3 866.1,313.8 869.2,301.6 871.1,299.6 871.8,315.7 871.8,339.3 871.5,420.0 872.2,458.0 873.5,489.6 876.6,506.0 880.4,521.1 884.2,528.6 890.6,531.8 896.9,534.3 902.0,533.6 903.9,521.1 906.4,489.6 908.9,458.0 912.1,442.3 914.6,464.3 917.2,495.9 919.7,527.4 921.6,546.2 924.8,527.4 927.3,495.9 929.9,477.7 933.0,489.6 935.6,514.8 938.1,539.9 940.6,556.2 945.1,559.9 950.1,562.4 950.0,561.5 953.8,550.2 957.0,540.2 959.5,538.3 962.7,550.2 965.8,567.7 969.0,575.9 973.5,567.7 977.3,552.7 981.7,535.2 985.5,523.9 988.0,520.2 991.2,540.2 993.7,565.2 995.6,583.9 998.2,591.5 1002.6,582.7 1006.4,577.2 1010.2,587.7 1013.4,597.7 1016.5,602.7 1021.0,592.7 1025.4,584.1 1029.2,593.9 1032.4,603.9 1035.2,608.9 1037.5,590.2 1039.4,559.0 1041.3,527.6 1044.4,507.6 1047.6,527.6 1050.1,565.2 1052.0,596.4 1054.2,616.3 1056.5,596.4 1059.0,552.7 1061.5,527.6 1064.1,517.1 1067.3,540.2 1069.2,577.7 1071.1,608.8 1073.0,625.0 1076.8,628.7 1083.1,631.2 1089.4,634.9 1093.2,631.2 1097.0,621.3 1100.8,616.3 1103.8,615.9 1108.9,615.9 1112.7,619.6 1116.5,638.2 1119.0,648.1 1125.4,648.1 1134.2,648.7 1140.6,649.4 1145.0,644.4 1148.2,632.0 1150.7,607.2 1153.2,576.0 1155.8,551.0 1158.6,539.3 1161.5,557.3 1164.0,582.3 1166.5,613.4 1169.7,638.2 1173.5,660.5 1175.4,668.3 1178.5,674.5 1182.3,668.3 1185.5,653.5 1188.0,628.7 1190.6,603.9 1193.7,585.2 1196.6,571.6 1200.1,582.7 1205.8,591.4 1209.6,603.9 1213.4,622.5 1217.2,641.1 1221.0,663.4 1224.8,677.0 1227.3,653.5 1229.9,628.7 1232.4,603.9 1235.6,587.2 1241.3,593.9 1247.6,601.4 1253.3,608.8 1255.2,622.5 1257.7,647.3 1260.3,672.0 1262.8,691.7 1265.4,672.0 1267.9,647.3 1270.4,626.2 1273.0,613.8 1278.0,606.4 1282.5,603.4 1287.5,610.1 1292.0,616.3 1293.9,628.7 1297.0,653.5 1300.2,678.2 1304.6,690.5 1309.7,701.6 1312.3,678.2 1314.8,647.3 1317.3,622.5 1321.3,608.3 1323.8,611.3 1328.9,618.8 1333.9,620.0 1339.0,618.8 1341.5,634.9 1344.7,653.5 1348.5,672.0 1353.0,686.8 1357.4,695.4 1359.9,678.2 1361.8,653.5 1363.7,628.7 1366.3,615.1 1370.7,611.4 1375.8,616.3 1382.1,617.5 1387.2,621.3 1389.1,641.1 1392.3,665.8 1396.1,684.3 1401.1,694.2 1404.7,699.7 1407.5,678.2 1410.0,653.5 1412.5,628.7 1415.1,615.8 1420.1,621.3 1425.2,626.3 1430.3,622.5 1433.4,621.3 1435.4,641.1 1437.9,665.8 1440.4,690.5 1442.7,699.7 1445.5,678.2 1448.0,653.5 1450.6,628.7 1453.1,620.0 1459.4,621.2 1465.8,622.4 1471.5,623.6 1474.0,640.9 1476.5,671.7 1479.1,696.2 1481.2,706.0 1483.5,683.9 1486.1,653.1 1488.6,632.1 1492.5,628.4 1495.1,627.1 1500.1,633.3 1503.9,640.6 1509.0,649.2 1513.5,638.1 1517.3,626.9 1520.4,624.0 1526.8,630.6 1533.1,631.7 1538.2,631.7 1540.1,646.4 1542.0,664.8 1544.5,689.1 1547.7,706.7 1550.2,683.0 1552.7,658.5 1555.3,637.7 1559.7,627.8 1566.1,622.9 1571.1,622.2 1577.5,624.6 1583.8,632.6 1590.1,637.4 1595.2,639.8 1599.0,651.9 1604.1,665.3 1607.9,651.9 1611.1,637.2 1614.9,633.0 1621.8,636.5 1626.9,635.9 1633.2,630.9 1637.0,630.3 1642.1,636.9 1648.4,640.5 1652.3,651.4 1654.8,669.5 1657.3,687.5 1661.1,708.4 1663.9,681.4 1666.5,657.3 1670.3,642.8 1675.4,639.1 1679.8,638.4 1683.0,651.1 1686.1,669.1 1689.9,681.1 1693.7,663.0 1696.3,648.5 1699.4,640.8 1705.8,644.2 1713.4,647.2 1718.4,649.5 1723.5,654.3 1727.3,656.0 1732.4,647.0 1737.5,633.7 1742.5,627.6 1747.6,625.8 1755.2,625.8 1758.4,638.5 1761.5,656.5 1765.6,667.3 1769.2,650.5 1772.3,632.5 1775.5,627.1 1781.8,631.3 1789.4,634.9 1797.0,637.3 1804.0,637.9 1806.6,637.9"/>
</g>
<g class="tick" text-anchor="end">
<text transform="translate(226.3,67.4) scale(1,1.02)">600</text>
<text transform="translate(226.3,202.1) scale(1,1.02)">400</text>
<text transform="translate(226.3,336.8) scale(1,1.02)">200</text>
<text transform="translate(226.3,471.5) scale(1,1.02)">0</text>
<text transform="translate(226.3,606.3) scale(1,1.02)">-200</text>
<text transform="translate(226.3,741.0) scale(1,1.02)">-400</text>
<text transform="translate(226.3,875.7) scale(1,1.02)">-600</text>
<text transform="translate(226.3,1010.4) scale(1,1.02)">-800</text>
</g>
<g class="tick" text-anchor="middle">
<text transform="translate(249.0,1070.3) scale(1,1.02)">0</text>
<text transform="translate(559.9,1070.3) scale(1,1.02)">2000</text>
<text transform="translate(870.8,1070.3) scale(1,1.02)">4000</text>
<text transform="translate(1181.7,1070.3) scale(1,1.02)">6000</text>
<text transform="translate(1492.6,1070.3) scale(1,1.02)">8000</text>
<text transform="translate(1804.5,1070.3) scale(1,1.02)">10,000</text>
</g>
<text class="lab" text-anchor="middle" x="1026" y="1156">Time (s)</text>
<text class="lab" text-anchor="middle" transform="translate(74,516) rotate(-90)">Power (W)</text>
<rect x="1217" y="839.8" width="548.2" height="107.7" fill="#fff" stroke="#262626" stroke-width="3.4"/>
<line x1="1231" y1="893.4" x2="1374" y2="893.4" stroke="#0072BD" stroke-width="7" shape-rendering="crispEdges"/>
<line x1="1530" y1="893.4" x2="1673" y2="893.4" stroke="#D95319" stroke-width="7" stroke-dasharray="17 16" shape-rendering="crispEdges"/>
<text class="leg" transform="translate(1383,903) scale(1.08,1)">P</text><text class="sub" x="1420" y="931.4">ESS</text>
<text class="leg" transform="translate(1683,903) scale(1.08,1)">P</text><text class="sub" x="1717" y="931.4">B</text>
</svg>
</body></html>
